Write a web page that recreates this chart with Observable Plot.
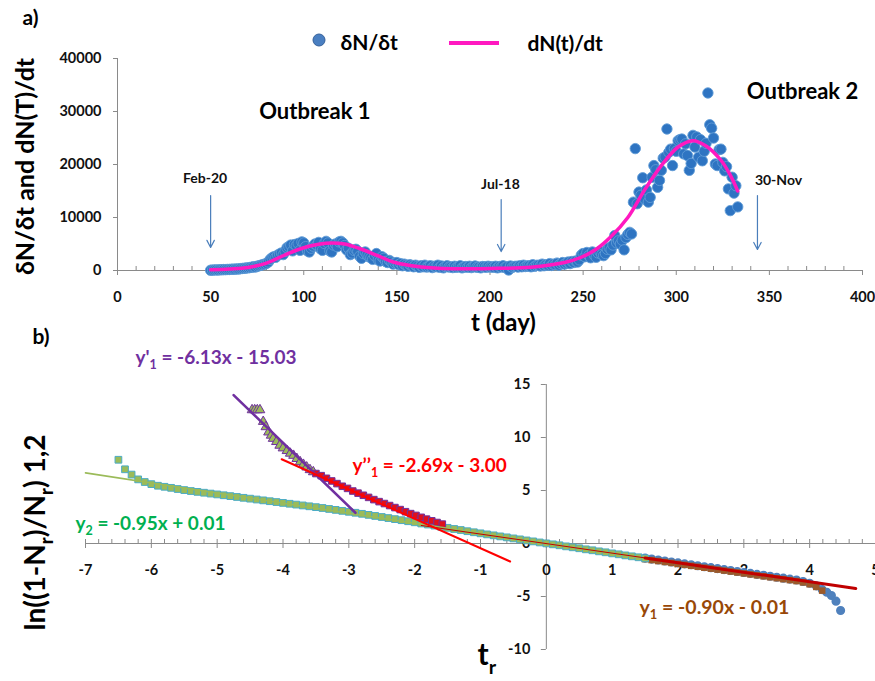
<!DOCTYPE html>
<html><head><meta charset="utf-8">
<script src="https://cdn.jsdelivr.net/npm/d3@7"></script>
<script src="https://cdn.jsdelivr.net/npm/@observablehq/plot@0.6"></script>
<style>
body{margin:0;background:#fff;}
#wrap{position:relative;width:875px;height:681px;overflow:hidden;background:#fff;}
#wrap svg{display:block;}
</style></head><body><div id="wrap"></div>
<script>
// ---------------- DATA: panel a ----------------
const firstDay = 50;
const dailyNew = [
  50, 80, 100, 120, 90, 150, 130, 180, 160, 200,          // 50-59
  190, 230, 260, 240, 300, 280, 350, 380, 420, 460,       // 60-69
  500, 550, 620, 700, 650, 800, 900, 1000, 1100, 1200,    // 70-79
  1350, 1600, 2100, 2400, 2600, 2500, 2900, 3100, 3300, 3000, // 80-89
  3600, 4300, 4500, 4800, 3700, 4900, 4700, 5100, 3800, 5400, // 90-99
  5200, 4500, 3700, 3500, 4200, 4600, 5000, 4800, 5300, 4100, // 100-109
  3800, 5100, 5500, 5200, 3700, 3500, 4800, 5000, 4500, 5400, // 110-119
  5500, 5200, 4700, 3900, 4200, 3000, 3300, 3800, 4000, 3600, // 120-129
  2700, 2300, 3200, 3500, 2900, 2600, 2400, 2100, 2800, 3200, // 130-139
  2000, 1800, 2600, 2300, 1700, 1500, 1900, 1600, 1200, 1400, // 140-149
  1500, 1100, 1300, 900, 1200, 1000, 800, 1100, 900, 700,     // 150-159
  1000, 800, 600, 900, 700, 1000, 650, 750, 900, 550,         // 160-169
  800, 700, 1000, 600, 850, 500, 750, 900, 650, 700,          // 170-179
  550, 800, 600, 700, 900, 500, 650, 750, 600, 800,           // 180-189
  550, 700, 850, 600, 650, 500, 750, 700, 600, 800,           // 190-199
  650, 700, 600, 800, 500, 750, 650, 900, 550, 700,           // 200-209
  100, 850, 600, 750, 800, 650, 900, 700, 1000, 750,          // 210-219
  850, 900, 700, 1100, 800, 950, 1000, 850, 1200, 900,        // 220-229
  1100, 1000, 1300, 950, 1200, 1100, 1400, 1000, 1300, 1500,  // 230-239
  1200, 1400, 1600, 1300, 1700, 1500, 1800, 1600, 2000, 2900, // 240-249
  3200, 2600, 3400, 2800, 2400, 3500, 2900, 2500, 3300, 3600, // 250-259
  3000, 2800, 3200, 4000, 4300, 3900, 4800, 6600, 5200, 5600, // 260-269
  5000, 5700, 3900, 6200, 6800, 7200, 6900, 12900, 23000, 12600, // 270-279
  14800, 14200, 17500, 13500, 15200, 12900, 13800, 17600, 19800, 19000, // 280-289
  15700, 17000, 18900, 21200, 21400, 26700, 22300, 22900, 19800, 23000, // 290-299
  22500, 24500, 24700, 24800, 22000, 23900, 21700, 18900, 20200, 25500, // 300-309
  23300, 25200, 21400, 24700, 20700, 22500, 24000, 33500, 27500, 26850, // 310-319
  25000, 20100, 19800, 22800, 22900, 20400, 18800, 19600, 15400, 11300, // 320-329
  17600, 14600, 16000, 12000                                            // 330-333
];
const curveT = [50, 60, 70, 80, 90, 100, 108, 115, 122, 130, 140, 148, 157, 170, 180, 200, 222, 240, 249, 257, 265, 274, 283, 292, 301, 309, 316, 324, 329, 333];
const curveV = [150, 300, 580, 1400, 2950, 4300, 4950, 5200, 5000, 4150, 2750, 1600, 950, 450, 330, 380, 630, 1500, 2500, 4000, 6400, 10000, 15200, 19800, 23300, 24500, 23500, 20800, 18000, 15000];
const events = [
  {label: "Feb-20", t: 50, top: 14150, bottom: 4340, labelT: 47, labelV: 17360},
  {label: "Jul-18", t: 206, top: 13400, bottom: 3580, labelT: 205.6, labelV: 16230},
  {label: "30-Nov", t: 343.6, top: 14150, bottom: 3960, labelT: 354.9, labelV: 16980}
];
const outbreaks = [
  {name: "Outbreak 1", t: 106, v: 30000},
  {name: "Outbreak 2", t: 367.8, v: 33600}
];
const xTicksA = [0, 50, 100, 150, 200, 250, 300, 350, 400];
const yTicksA = [0, 10000, 20000, 30000, 40000];

// ---------------- DATA: panel b ----------------
const y2Points = [
  [-6.5,7.9],[-6.4,7.0],[-6.3,6.5],[-6.2,6.05],[-6.1,5.8],[-6.0,5.6],[-5.9,5.45],[-5.8,5.35],[-5.7,5.25],[-5.6,5.14],
  [-5.5,5.04],[-5.4,4.95],[-5.3,4.87],[-5.2,4.79],[-5.1,4.71],[-5.0,4.63],[-4.9,4.55],[-4.8,4.47],[-4.7,4.39],[-4.6,4.31],
  [-4.5,4.23],[-4.4,4.15],[-4.3,4.07],[-4.2,3.99],[-4.1,3.91],[-4.0,3.83],[-3.9,3.75],[-3.8,3.67],[-3.7,3.59],[-3.6,3.51],
  [-3.5,3.43],[-3.4,3.35],[-3.3,3.26],[-3.2,3.17],[-3.1,3.08],[-3.0,2.99],[-2.9,2.9],[-2.8,2.8],[-2.7,2.7],[-2.6,2.6],
  [-2.5,2.5],[-2.4,2.4],[-2.3,2.3],[-2.2,2.2],[-2.1,2.1],[-2.0,2.0],[-1.9,1.89],[-1.8,1.79],[-1.7,1.69],[-1.6,1.58],
  [-1.5,1.48],[-1.4,1.37],[-1.3,1.27],[-1.2,1.16],[-1.1,1.06],[-1.0,0.96],[-0.9,0.86],[-0.8,0.77],[-0.7,0.67],[-0.6,0.58],
  [-0.5,0.48],[-0.4,0.39],[-0.3,0.29],[-0.2,0.2],[-0.1,0.1],[0.0,0.01],[0.1,-0.08],[0.2,-0.17],[0.3,-0.27],[0.4,-0.36],
  [0.5,-0.45],[0.6,-0.55],[0.7,-0.64],[0.8,-0.74],[0.9,-0.83],[1.0,-0.93],[1.1,-1.02],[1.2,-1.12],[1.3,-1.21],[1.4,-1.3],[1.5,-1.4]
];
const y1aPoints = [
  [-4.47,12.6],[-4.43,12.6],[-4.39,12.6],[-4.35,12.6],[-4.30,11.5],[-4.26,11.0],[-4.22,10.5],[-4.18,10.2],[-4.15,9.9],
  [-4.10,9.6],[-4.05,9.25],[-4.00,9.0],[-3.94,8.75],[-3.89,8.5],[-3.84,8.3],[-3.79,8.0],[-3.74,7.7],[-3.69,7.45],
  [-3.64,7.2],[-3.59,6.95],[-3.54,6.75]
];
const y1bPoints = [
  [-3.50,6.6],[-3.42,6.4],[-3.34,6.15],[-3.26,5.9],[-3.18,5.65],[-3.10,5.4],[-3.02,5.2],[-2.94,4.95],[-2.86,4.75],
  [-2.78,4.55],[-2.70,4.35],[-2.62,4.14],[-2.54,3.95],[-2.46,3.77],[-2.38,3.58],[-2.30,3.39],[-2.22,3.2],[-2.14,3.0],
  [-2.06,2.82],[-1.98,2.65],[-1.90,2.47],[-1.82,2.3],[-1.74,2.14],[-1.66,1.98],[-1.58,1.83]
];
const y1Points = [
  [1.5,-1.38],[1.6,-1.47],[1.7,-1.56],[1.8,-1.65],[1.9,-1.74],[2.0,-1.83],[2.1,-1.92],[2.2,-2.01],[2.3,-2.1],[2.4,-2.19],
  [2.5,-2.28],[2.6,-2.37],[2.7,-2.46],[2.8,-2.55],[2.9,-2.64],[3.0,-2.73],[3.1,-2.82],[3.2,-2.91],[3.3,-3.0],[3.4,-3.09],
  [3.5,-3.18],[3.6,-3.27],[3.7,-3.36],[3.8,-3.45],[3.9,-3.58],[4.0,-3.75],[4.1,-4.0],[4.19,-4.35],
  [4.26,-4.6],[4.33,-4.9],[4.40,-5.44],[4.47,-6.32]
];
const fitY2 = [[-7, 6.66], [1.5, -1.42]];
const fitY1p = [[-4.75, 14.0], [-2.9, 2.9]];
const fitY1pp = [[-4.02, 7.95], [-0.55, -1.7]];
const fitY1 = [[1.5, -1.36], [4.7, -4.24]];
const fitY1thin = [[-1.9, 1.7], [1.5, -1.36]];
const xTicksB = [-7, -6, -5, -4, -3, -2, -1, 0, 1, 2, 3, 4, 5];
const yTicksB = [-10, -5, 0, 5, 10, 15];

// ---------------- STYLE ----------------
const FONT = "Lato, 'Open Sans', 'DejaVu Sans', sans-serif";
const AX = "#8a8a8a";
const wrap = document.getElementById("wrap");

function label(text, dx, dy, o = {}) {
  return Plot.text([text], {frameAnchor: "top-left", dx, dy, text: d => d, fontWeight: "bold",
    fontFamily: FONT, fill: "#000", textAnchor: "start", lineAnchor: "middle", ...o});
}
function subscripts(svg) {
  svg.querySelectorAll("text").forEach(t => {
    const s = t.textContent;
    if (!s.includes("_")) return;
    const fs = parseFloat(getComputedStyle(t).fontSize) || 16;
    const sh = fs * 0.28;
    const parts = s.split(/_(\w)/);
    t.textContent = "";
    let shifted = false;
    parts.forEach((p, i) => {
      const ts = document.createElementNS("http://www.w3.org/2000/svg", "tspan");
      ts.textContent = p;
      if (i % 2 === 1) { ts.setAttribute("dy", sh); ts.setAttribute("font-size", (fs * 0.66).toFixed(1)); shifted = true; }
      else if (shifted) { ts.setAttribute("dy", -sh); shifted = false; }
      t.appendChild(ts);
    });
  });
}
const fmt = d => String(d);

// ---------------- PANEL A ----------------
const mA = {top: 58, right: 13, bottom: 60, left: 117};
const WA = 875, HA = 330;
const upyA = 40000 / (HA - mA.top - mA.bottom);
const upxA = 400 / (WA - mA.left - mA.right);
const scatterA = dailyNew.map((v, i) => ({t: firstDay + i, v}));
const curveA = curveT.map((t, i) => ({t, v: curveV[i]}));
const xMinorA = d3.range(10, 400, 10).filter(d => d % 50 !== 0);

const plotA = Plot.plot({
  width: WA, height: HA,
  marginTop: mA.top, marginRight: mA.right, marginBottom: mA.bottom, marginLeft: mA.left,
  style: {fontFamily: FONT, background: "#fff", overflow: "visible"},
  x: {domain: [0, 400], axis: null},
  y: {domain: [0, 40000], axis: null},
  marks: [
    Plot.ruleX([0], {y1: 0, y2: 40000, stroke: AX}),
    Plot.ruleY([0], {x1: 0, x2: 400, stroke: AX}),
    Plot.ruleY(yTicksA, {x1: -4 * upxA, x2: 0, stroke: AX}),
    Plot.ruleX(xMinorA, {y1: 0, y2: 4 * upyA, stroke: AX}),
    Plot.ruleX(xTicksA, {y1: -5 * upyA, y2: 0, stroke: AX}),
    Plot.text(yTicksA, {x: 0, y: d => d, text: fmt, dx: -16, textAnchor: "end", fontSize: 14.5, fontWeight: "bold", fill: "#111"}),
    Plot.text(xTicksA, {x: d => d, y: 0, text: fmt, dy: 27, fontSize: 14.5, fontWeight: "bold", fill: "#111"}),
    Plot.arrow(events, {x1: "t", x2: "t", y1: "top", y2: "bottom", stroke: "#4a7ebb", strokeWidth: 1.2, headLength: 10, headAngle: 55}),
    Plot.text(events, {x: "labelT", y: "labelV", text: "label", fontSize: 14, fontWeight: "bold", fill: "#111"}),
    Plot.text(outbreaks, {x: "t", y: "v", text: "name", fontSize: 22, fontWeight: "bold", fill: "#000"}),
    Plot.dot(scatterA, {x: "t", y: "v", r: 5.2, fill: "#2e74c2", stroke: "#5f9bd6", strokeWidth: 0.9}),
    Plot.line(curveA, {x: "t", y: "v", stroke: "#ff19c0", strokeWidth: 3.5, curve: "catmull-rom"}),
    label("a)", -95, -40, {fontSize: 21}),
    label("δN/δt", 340 - mA.left, 43 - mA.top, {fontSize: 21}),
    label("dN(t)/dt", 527 - mA.left, 44 - mA.top, {fontSize: 21}),
    label("δN/δt and dN(T)/dt", 25 - mA.left, 166 - mA.top, {fontSize: 25, rotate: -90, textAnchor: "middle"}),
    label("t (day)", 503 - mA.left, 323 - mA.top, {fontSize: 24, textAnchor: "middle"})
  ]
});
wrap.appendChild(plotA);
{
  const s = d3.select(plotA);
  s.append("circle").attr("cx", 319).attr("cy", 40).attr("r", 6).attr("fill", "#4a7fc1").attr("stroke", "#35609a").attr("stroke-width", 1);
  s.append("line").attr("x1", 449).attr("x2", 499).attr("y1", 43).attr("y2", 43).attr("stroke", "#ff19c0").attr("stroke-width", 4);
}

// ---------------- PANEL B ----------------
const mB = {top: 54, right: 0, bottom: 32, left: 85};
const WB = 875, HB = 351;
const upyB = 25 / (HB - mB.top - mB.bottom);
const upxB = 12 / (WB - mB.left - mB.right);
const xMinorB = d3.range(-35, 26).filter(i => i % 5 !== 0).map(i => i / 5);
const toObj = a => a.map(([x, y]) => ({x, y}));
const brown = y1Points.filter(p => p[0] <= 4.2);

const plotB = Plot.plot({
  width: WB, height: HB,
  marginTop: mB.top, marginRight: mB.right, marginBottom: mB.bottom, marginLeft: mB.left,
  style: {fontFamily: FONT, background: "#fff", overflow: "visible"},
  x: {domain: [-7, 5], axis: null},
  y: {domain: [-10, 15], axis: null},
  marks: [
    Plot.ruleX([0], {y1: -10, y2: 15, stroke: AX}),
    Plot.ruleY([0], {x1: -7, x2: 5, stroke: AX}),
    Plot.ruleY(yTicksB, {x1: -5 * upxB, x2: 0, stroke: AX}),
    Plot.ruleX(xMinorB, {y1: 0, y2: 4 * upyB, stroke: AX}),
    Plot.ruleX(xTicksB, {y1: -5 * upyB, y2: 4 * upyB, stroke: AX}),
    Plot.text(yTicksB, {x: 0, y: d => d, text: fmt, dx: -16, textAnchor: "end", fontSize: 14.5, fontWeight: "bold", fill: "#111"}),
    Plot.text(xTicksB, {x: d => d, y: 0, text: fmt, dy: 27, fontSize: 14.5, fontWeight: "bold", fill: "#111"}),
    Plot.dot(toObj(y1Points), {x: "x", y: "y", r: 3.8, fill: "#4f81bd", stroke: "#4f81bd"}),
    Plot.dot(toObj(brown), {x: "x", y: "y", symbol: "square", r: 3.7, fill: "#9c5a2a", dy: 1}),
    Plot.dot(toObj(y2Points), {x: "x", y: "y", symbol: "square", r: 3.8, fill: "#9bbb59", stroke: "#4bacc6", strokeWidth: 1}),
    Plot.dot(toObj(y1aPoints), {x: "x", y: "y", symbol: "triangle", r: 3.6, fill: "#9bbb59", stroke: "#7030a0", strokeWidth: 1}),
    Plot.dot(toObj(y1bPoints), {x: "x", y: "y", symbol: "square", r: 3.7, fill: "#e0101a", stroke: "#7030a0", strokeWidth: 1}),
    Plot.line(toObj(fitY2), {x: "x", y: "y", stroke: "#9bbb59", strokeWidth: 1.6}),
    Plot.line(toObj(fitY1thin), {x: "x", y: "y", stroke: "#c00000", strokeWidth: 1}),
    Plot.line(toObj(fitY1p), {x: "x", y: "y", stroke: "#7030a0", strokeWidth: 2.6}),
    Plot.line(toObj(fitY1pp), {x: "x", y: "y", stroke: "#ff0000", strokeWidth: 2}),
    Plot.line(toObj(fitY1), {x: "x", y: "y", stroke: "#c00000", strokeWidth: 3}),
    label("b)", 32 - mB.left, 7 - mB.top, {fontSize: 21}),
    label("y'_1 = -6.13x - 15.03", 135 - mB.left, 27 - mB.top, {fontSize: 19, fill: "#7030a0"}),
    label("y’’_1 = -2.69x - 3.00", 352 - mB.left, 135 - mB.top, {fontSize: 19, fill: "#ff0000"}),
    label("y_2 = -0.95x + 0.01", 75 - mB.left, 193 - mB.top, {fontSize: 19, fill: "#00b050"}),
    label("y_1 = -0.90x - 0.01", 639 - mB.left, 277 - mB.top, {fontSize: 19.5, fill: "#984807"}),
    label("ln((1-N_r)/N_r) 1,2", 36 - mB.left, 202 - mB.top, {fontSize: 28, rotate: -90, textAnchor: "middle"}),
    label("t_r", 477 - mB.left, 325 - mB.top, {fontSize: 30})
  ]
});
wrap.appendChild(plotB);
subscripts(plotA);
subscripts(plotB);
</script></body></html>
